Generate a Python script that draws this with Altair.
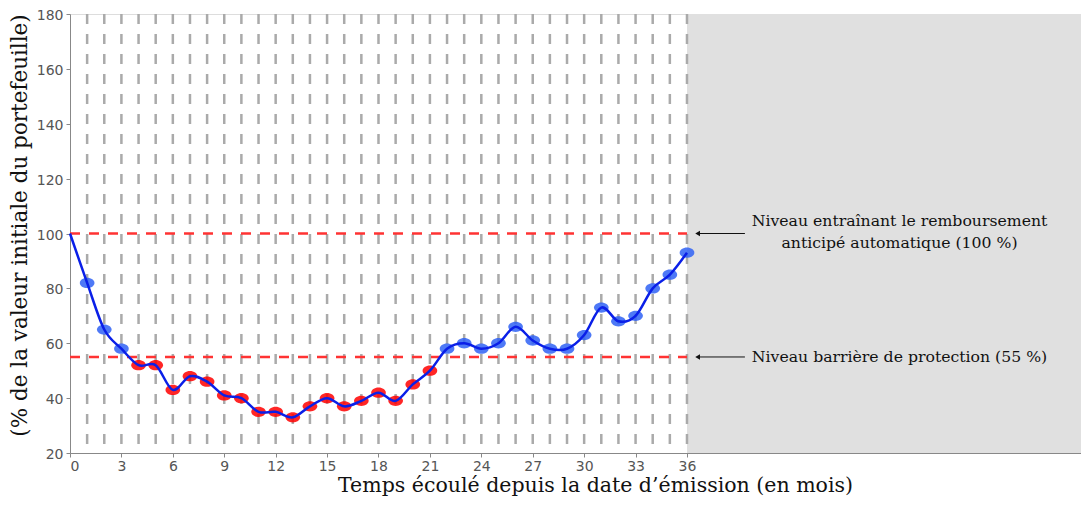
import altair as alt
import pandas as pd

months = list(range(0, 37))
values = [100, 82, 65, 58, 52, 52, 43, 48, 46, 41, 40, 35, 35, 33, 37, 40, 37, 39,
          42, 39, 45, 50, 58, 60, 58, 60, 66, 61, 58, 58, 63, 73, 68, 70, 80, 85, 93]
autocall_level = 100
barrier_level = 55
maturity = 36
x_max = 58.99
x_ticks = list(range(0, 37, 3))
y_ticks = list(range(20, 181, 20))
grid_months = list(range(1, 37))

label_autocall = ["Niveau entraînant le remboursement", "anticipé automatique (100 %)"]
label_barrier = "Niveau barrière de protection (55 %)"
x_title = "Temps écoulé depuis la date d\u2019émission (en mois)"
y_title = "(% de la valeur initiale du portefeuille)"

W, H = 1011, 439
SERIF = "DejaVu Serif"

df_line = pd.DataFrame({"m": months, "v": values})
df_pts = df_line[df_line["m"] >= 1].copy()
df_pts["zone"] = ["below" if v < barrier_level else "above" for v in df_pts["v"]]

xs = alt.Scale(domain=[0, x_max], nice=False, zero=False)
ys = alt.Scale(domain=[20, 180], nice=False, zero=False)

xaxis = alt.Axis(values=x_ticks, title=x_title, grid=False, domainColor="#888",
                 tickColor="#888", labelColor="#555", labelFont="DejaVu Sans",
                 labelFontSize=14, titleFont=SERIF, titleFontSize=20.5,
                 titleFontWeight="normal", titleColor="#111", tickSize=4,
                 labelPadding=2, titleX=525, titleY=32, titleBaseline="middle")
yaxis = alt.Axis(values=y_ticks, title=y_title, grid=False, domainColor="#888",
                 tickColor="#888", labelColor="#555", labelFont="DejaVu Sans",
                 labelFontSize=14, labelOffset=1.5, titleFont=SERIF, titleFontSize=21.5,
                 titleFontWeight="normal", titleColor="#111", tickSize=4,
                 labelPadding=3, titleX=-50, titleY=211, titleBaseline="middle",
                 titleAngle=-90)

shade = alt.Chart(pd.DataFrame({"a": [maturity], "b": [x_max], "lo": [20], "hi": [180]})).mark_rect(
    color="#e0e0e0").encode(
    x=alt.X("a:Q", scale=xs, axis=xaxis), x2="b:Q",
    y=alt.Y("lo:Q", scale=ys, axis=yaxis), y2="hi:Q")

vgrid = alt.Chart(pd.DataFrame({"m": grid_months, "lo": 20, "hi": 180})).mark_rule(
    color="#aaaaaa", strokeWidth=2.5, strokeDash=[10, 10]).encode(
    x=alt.X("m:Q", scale=xs), y=alt.Y("hi:Q", scale=ys), y2="lo:Q")

hlines = alt.Chart(pd.DataFrame({"lvl": [autocall_level, barrier_level], "a": 0, "b": maturity})).mark_rule(
    color="#ff3333", strokeWidth=2.5, strokeDash=[10, 9]).encode(
    x=alt.X("a:Q", scale=xs), x2="b:Q", y=alt.Y("lvl:Q", scale=ys))

ellipse = "M-1,0A1,0.7,0,1,1,1,0A1,0.7,0,1,1,-1,0Z"
pts = alt.Chart(df_pts).mark_point(shape=ellipse, filled=True, size=215, opacity=0.85).encode(
    x=alt.X("m:Q", scale=xs), y=alt.Y("v:Q", scale=ys),
    color=alt.Color("zone:N", scale=alt.Scale(domain=["below", "above"], range=["#ff0000", "#2f62f5"]),
                    legend=None))

line = alt.Chart(df_line).mark_line(color="#0a1fe8", strokeWidth=2.5, interpolate="cardinal").encode(
    x=alt.X("m:Q", scale=xs), y=alt.Y("v:Q", scale=ys))

arrows_df = pd.DataFrame({"lvl": [autocall_level, barrier_level], "a": 36.62, "b": 39.38})
arrow_line = alt.Chart(arrows_df).mark_rule(color="#111", strokeWidth=1).encode(
    x=alt.X("a:Q", scale=xs), x2="b:Q", y=alt.Y("lvl:Q", scale=ys))
arrow_head = alt.Chart(arrows_df).mark_point(shape="triangle-left", filled=True, size=30,
                                             color="#111", opacity=1).encode(
    x=alt.X("a:Q", scale=xs), y=alt.Y("lvl:Q", scale=ys))

txt_df = pd.DataFrame({"x": [48.4, 48.4, 48.4], "y": [104.4, 96.4, 55],
                       "t": [label_autocall[0], label_autocall[1], label_barrier]})
texts = alt.Chart(txt_df).mark_text(font=SERIF, fontSize=15.7, color="#111", align="center",
                                    baseline="middle").encode(
    x=alt.X("x:Q", scale=xs), y=alt.Y("y:Q", scale=ys), text="t:N")

chart = alt.layer(shade, vgrid, hlines, pts, line, arrow_line, arrow_head, texts).properties(
    width=W, height=H, autosize=alt.AutoSizeParams(type="none"),
    padding={"left": 62, "top": 6, "right": 0, "bottom": 44}
).configure_view(stroke="#888", strokeWidth=1.5).configure(background="white")

chart.save("out.html", embed_options={"renderer": "svg", "actions": False})
